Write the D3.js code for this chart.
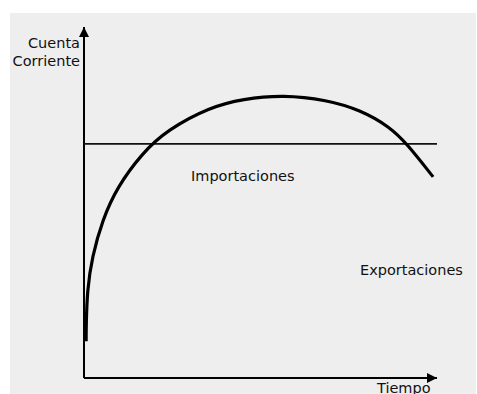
<!DOCTYPE html>
<html>
<head>
<meta charset="utf-8">
<script src="https://cdn.jsdelivr.net/npm/d3@7"></script>
<style>
  body { margin: 0; background: #fff; }
  text { font-family: "DejaVu Sans", sans-serif; font-size: 14.5px; fill: #111; }
</style>
</head>
<body>
<div id="chart"></div>
<script>
// curve of the current account over time
var tiempo = [0.6, 0.6, 0.9, 2.3, 5.2, 9.4, 16.5, 23.6, 35.7, 45.0, 56.4, 68.8, 78.2, 86.7, 91.5, 98.9];
var cuenta = [10.5, 14.0, 25.1, 34.5, 45.0, 54.4, 64.1, 70.7, 77.2, 79.5, 80.7, 79.2, 76.4, 71.5, 66.7, 57.3];
// flat import level
var nivelImportaciones = 66.7;
var etiquetas = {
    ejeY: ["Cuenta", "Corriente"],
    ejeX: "Tiempo",
    importaciones: "Importaciones",
    exportaciones: "Exportaciones"
};

var width = 477;
var height = 394;

var svg = d3.select('#chart')
    .append('svg')
    .attr('width', width)
    .attr('height', height);

// grey panel
svg.append('rect')
    .attr('x', 10)
    .attr('y', 13)
    .attr('width', 466)
    .attr('height', 381)
    .attr('fill', '#eeeeee');

var x = d3.scaleLinear().domain([0, 100]).range([84, 437]);
var y = d3.scaleLinear().domain([0, 100]).range([378, 27]);

// arrow heads
var defs = svg.append('defs');
defs.append('marker')
    .attr('id', 'arrow')
    .attr('viewBox', '0 0 10 10')
    .attr('refX', 10)
    .attr('refY', 5)
    .attr('markerWidth', 10)
    .attr('markerHeight', 10)
    .attr('markerUnits', 'userSpaceOnUse')
    .attr('orient', 'auto')
    .append('path')
    .attr('d', 'M0,0 L10,5 L0,10 Z')
    .attr('fill', '#000');

// axes
svg.append('line')
    .attr('x1', x(0)).attr('y1', y(0))
    .attr('x2', x(0)).attr('y2', y(100))
    .attr('stroke', '#000')
    .attr('stroke-width', 2)
    .attr('marker-end', 'url(#arrow)');

svg.append('line')
    .attr('x1', x(0)).attr('y1', y(0))
    .attr('x2', x(100)).attr('y2', y(0))
    .attr('stroke', '#000')
    .attr('stroke-width', 2)
    .attr('marker-end', 'url(#arrow)');

// import level
svg.append('line')
    .attr('x1', x(0)).attr('y1', y(nivelImportaciones))
    .attr('x2', x(100)).attr('y2', y(nivelImportaciones))
    .attr('stroke', '#111')
    .attr('stroke-width', 1.8);

// curve
var data = tiempo.map((t, i) => ({t: t, v: cuenta[i]}));
var line = d3.line()
    .x(d => x(d.t))
    .y(d => y(d.v))
    .curve(d3.curveBasis);

svg.append('path')
    .datum(data)
    .attr('d', line)
    .attr('fill', 'none')
    .attr('stroke', '#000')
    .attr('stroke-width', 3.2);

// labels
svg.append('text')
    .attr('x', 80).attr('y', 48)
    .attr('text-anchor', 'end')
    .text(etiquetas.ejeY[0]);
svg.append('text')
    .attr('x', 80).attr('y', 66)
    .attr('text-anchor', 'end')
    .text(etiquetas.ejeY[1]);

svg.append('text')
    .attr('x', 191).attr('y', 181)
    .text(etiquetas.importaciones);

svg.append('text')
    .attr('x', 360).attr('y', 275)
    .text(etiquetas.exportaciones);

svg.append('text')
    .attr('x', 377).attr('y', 393)
    .text(etiquetas.ejeX);
</script>
</body>
</html>
